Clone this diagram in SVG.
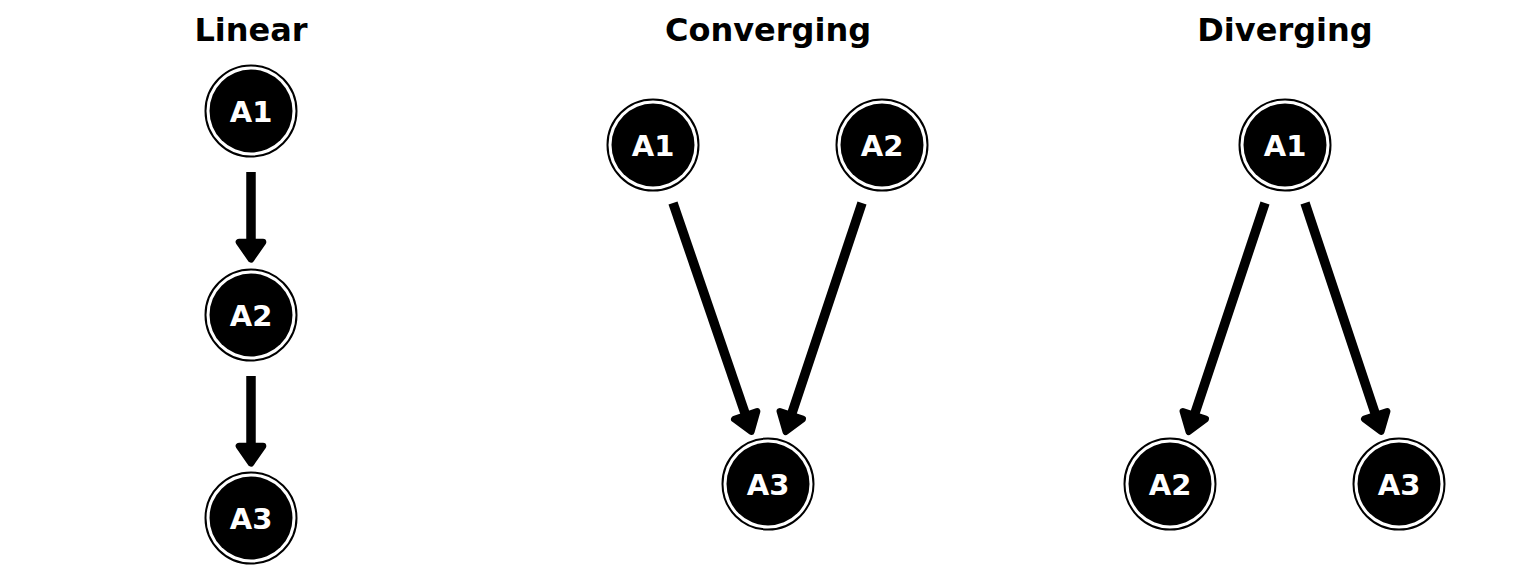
<svg xmlns="http://www.w3.org/2000/svg" width="1536" height="576" viewBox="0 0 1536 576">
<style>
.title{font-family:"DejaVu Sans",sans-serif;font-weight:bold;font-size:32px;fill:#000;text-anchor:middle}
.lbl{font-family:"DejaVu Sans",sans-serif;font-weight:bold;font-size:29px;fill:#fff;text-anchor:middle;dominant-baseline:central}
.ring{fill:#fff;stroke:#000;stroke-width:2}
.core{fill:#000}
.edge{stroke:#000;stroke-width:9.5;fill:none;marker-end:url(#ah)}
</style>
<defs>
<marker id="ah" markerUnits="userSpaceOnUse" markerWidth="40" markerHeight="40" viewBox="-5 -15 30 30" refX="3" refY="0" orient="auto" overflow="visible">
<path d="M0,-9 L13,0 L0,9 Z" fill="#000" stroke="#000" stroke-width="5" stroke-linejoin="round"/>
</marker>
</defs>
<rect width="1536" height="576" fill="#fff"/>
<text class="title" x="251" y="41">Linear</text>
<text class="title" x="768" y="41">Converging</text>
<text class="title" x="1285" y="41">Diverging</text>
<g id="connectors">
<line class="edge" x1="251" y1="172" x2="251" y2="246"/>
<line class="edge" x1="251" y1="376" x2="251" y2="450"/>
<line class="edge" x1="673" y1="203" x2="747" y2="419"/>
<line class="edge" x1="862" y1="203" x2="790" y2="419"/>
<line class="edge" x1="1265" y1="203" x2="1193" y2="419"/>
<line class="edge" x1="1305" y1="203" x2="1377" y2="419"/>
</g>
<g id="lin-a1"><circle class="ring" cx="251" cy="111" r="45.5"/><circle class="core" cx="251" cy="111" r="41.5"/><text class="lbl" x="251" y="112">A1</text></g>
<g id="lin-a2"><circle class="ring" cx="251" cy="315" r="45.5"/><circle class="core" cx="251" cy="315" r="41.5"/><text class="lbl" x="251" y="316">A2</text></g>
<g id="lin-a3"><circle class="ring" cx="251" cy="518" r="45.5"/><circle class="core" cx="251" cy="518" r="41.5"/><text class="lbl" x="251" y="519">A3</text></g>
<g id="conv-a1"><circle class="ring" cx="653" cy="145" r="45.5"/><circle class="core" cx="653" cy="145" r="41.5"/><text class="lbl" x="653" y="146">A1</text></g>
<g id="conv-a2"><circle class="ring" cx="882" cy="145" r="45.5"/><circle class="core" cx="882" cy="145" r="41.5"/><text class="lbl" x="882" y="146">A2</text></g>
<g id="conv-a3"><circle class="ring" cx="768" cy="484" r="45.5"/><circle class="core" cx="768" cy="484" r="41.5"/><text class="lbl" x="768" y="485">A3</text></g>
<g id="div-a1"><circle class="ring" cx="1285" cy="145" r="45.5"/><circle class="core" cx="1285" cy="145" r="41.5"/><text class="lbl" x="1285" y="146">A1</text></g>
<g id="div-a2"><circle class="ring" cx="1170" cy="484" r="45.5"/><circle class="core" cx="1170" cy="484" r="41.5"/><text class="lbl" x="1170" y="485">A2</text></g>
<g id="div-a3"><circle class="ring" cx="1399" cy="484" r="45.5"/><circle class="core" cx="1399" cy="484" r="41.5"/><text class="lbl" x="1399" y="485">A3</text></g>
</svg>
